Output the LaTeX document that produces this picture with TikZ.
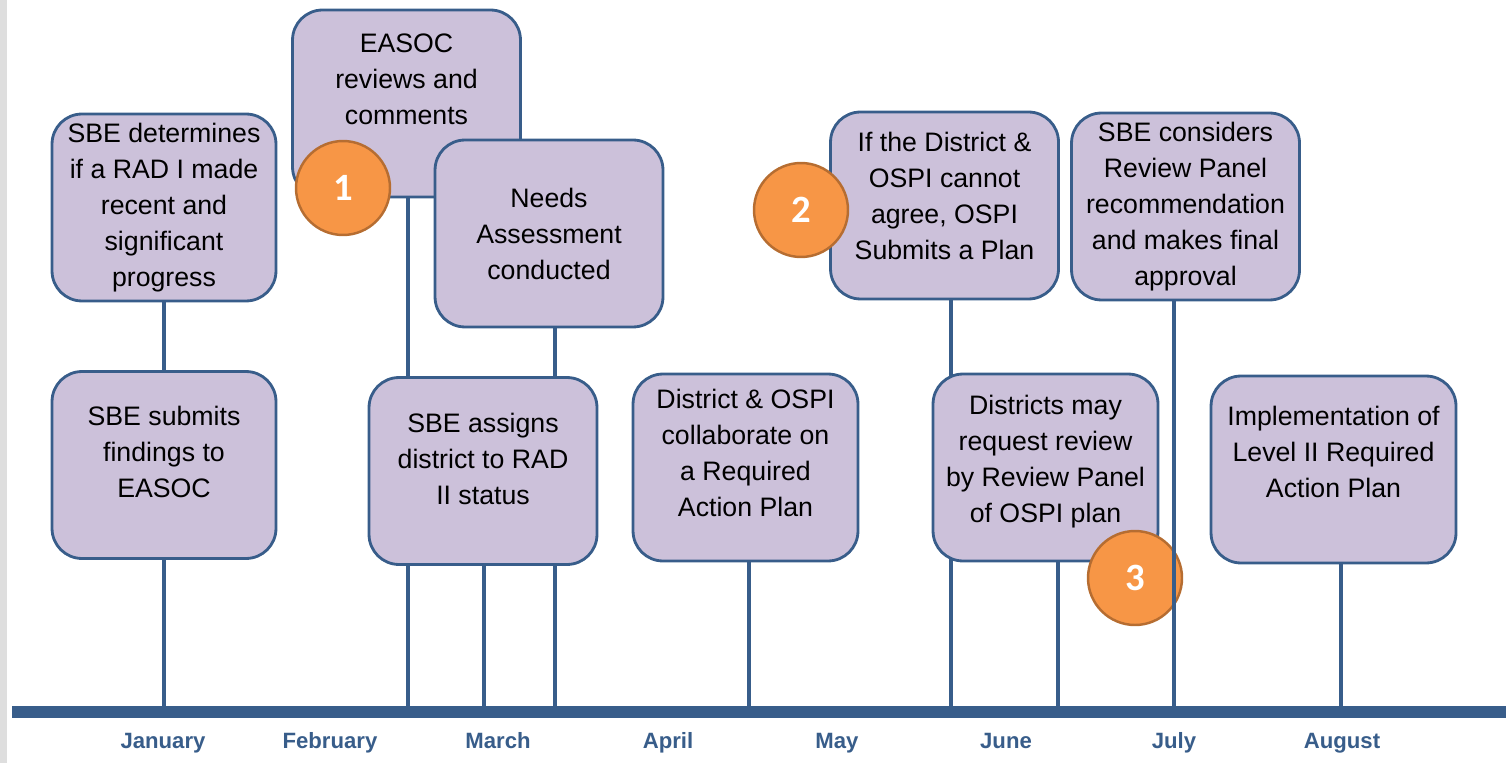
\documentclass[tikz,border=0pt]{standalone}
\usepackage{fontspec}
\setmainfont{Liberation Sans}
\newfontfamily\numfont{Carlito}
\usetikzlibrary{backgrounds}
\definecolor{stemblue}{HTML}{385D8A}
\definecolor{boxfill}{HTML}{CCC1DA}
\definecolor{dotfill}{HTML}{F79646}
\definecolor{dotedge}{HTML}{B66D31}
\definecolor{sidegray}{HTML}{DEDEDE}

\begin{document}
\begin{tikzpicture}[x=0.02cm,y=-0.02cm,
  box/.style={draw=stemblue,line width=1.6pt,fill=boxfill,rounded corners=0.6cm,
    minimum width=4.56cm,minimum height=3.74cm,inner sep=2pt,align=center,
    font=\fontsize{15.2}{20.5}\selectfont},
  badge/.style={circle,draw=dotedge,line width=1.4pt,fill=dotfill,minimum size=1.88cm,
    text=white,font=\numfont\bfseries\fontsize{22}{24}\selectfont},
  stem/.style={stemblue,line width=2.3pt},
  month/.style={text=stemblue,anchor=base,font=\bfseries\fontsize{12.6}{15}\selectfont}]
  \useasboundingbox (0,0) rectangle (1506,763);
  \fill[sidegray] (0,0) rectangle (7,763);

  % time axis
  \coordinate (axL) at (12,712);
  \coordinate (axR) at (1506,712);
  \draw[stemblue,line width=0.24cm] (axL)--(axR);
  \foreach \x/\m in {163/January,330/February,498/March,668/April,
                     837/May,1006/June,1174/July,1342/August}
    \node[month] (m-\m) at (\x,748) {\m};

  % steps (text depth lifts the text inside the box)
  \node[box,minimum width=4.48cm] (sbeDet) at (164,207.5)
    {SBE determines\\if a RAD I made\\recent and\\significant\\progress};
  \node[box,minimum width=4.48cm,text depth=0.54cm] (sbeSub) at (164,465)
    {SBE submits\\findings to\\EASOC};
  \node[box,text depth=0.98cm] (easoc) at (406.5,103.5) {EASOC\\reviews and\\comments};
  \node[box] (needs) at (549,233.5) {Needs\\Assessment\\conducted};
  \node[box,text depth=0.5cm] (assign) at (483,471) {SBE assigns\\district to RAD\\II status};
  \node[box,minimum width=4.5cm,text depth=0.58cm] (collab) at (745.5,467.5)
    {District \& OSPI\\collaborate on\\a Required\\Action Plan};
  \node[box,text depth=0.38cm] (ospiPlan) at (944.5,205.5)
    {If the District \&\\OSPI cannot\\agree, OSPI\\Submits a Plan};
  \node[box,minimum width=4.5cm,text depth=0.34cm] (request) at (1045.5,467.5)
    {Districts may\\request review\\by Review Panel\\of OSPI plan};
  \node[box] (approve) at (1185.5,206.5)
    {SBE considers\\Review Panel\\recommendation\\and makes final\\approval};
  \node[box,minimum width=4.9cm,text depth=0.7cm] (implement) at (1333.5,469.5)
    {Implementation of\\Level II Required\\Action Plan};

  % stems down to the axis
  \begin{scope}[on background layer]
    \foreach \b/\x in {sbeDet/164,easoc/408,needs/555,assign/484,collab/749,
                       ospiPlan/951,request/1058,implement/1341}{
      \coordinate (t-\b) at (\x,712);
      \draw[stem] (t-\b |- \b.south) -- (t-\b);
    }
  \end{scope}

  % numbered markers
  \node[badge] (n1) at (343,188) {1};
  \node[badge] (n2) at (801,210) {2};
  \node[badge] (n3) at (1135,578) {3};

  \coordinate (t-approve) at (1174,712);
  \draw[stem] (t-approve |- approve.south) -- (t-approve);
\end{tikzpicture}
\end{document}
